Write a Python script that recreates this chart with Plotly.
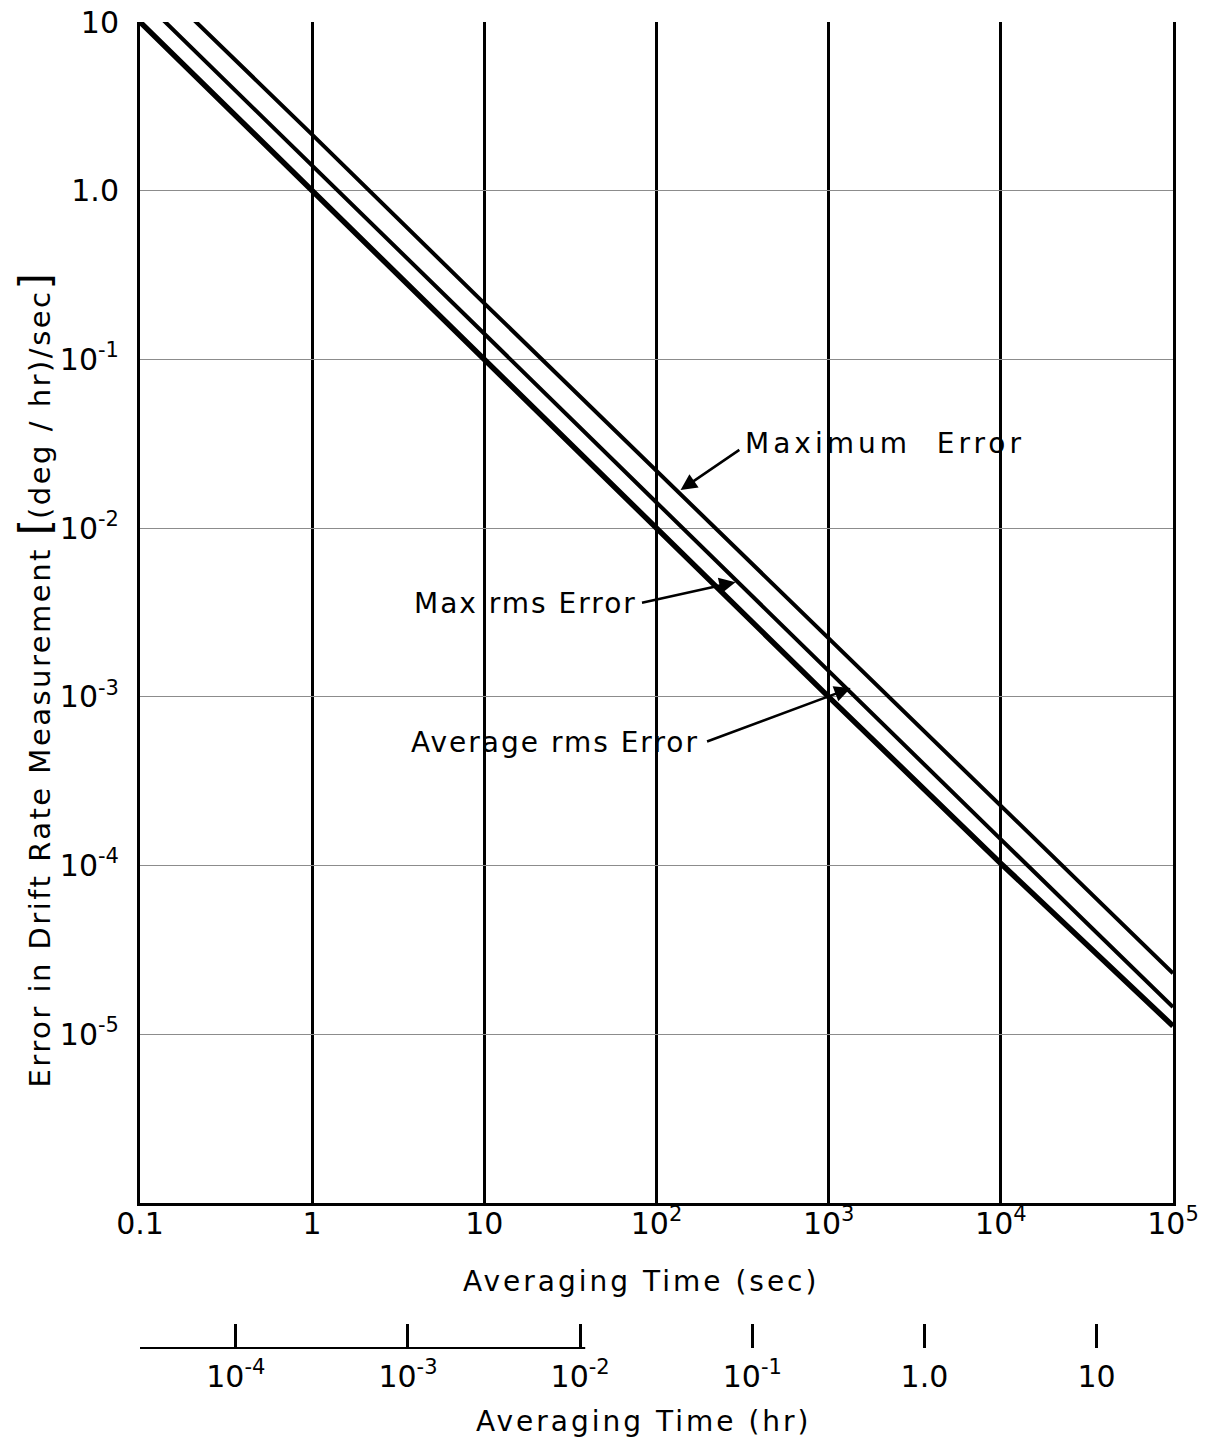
import math
import plotly.graph_objects as go

# ---- data ----
time_sec = [0.1, 1, 10, 100, 1000, 10000, 100000]
max_error = [21, 2.15, 0.215, 0.0218, 2.2e-3, 2.25e-4, 2.3e-5]
max_rms_error = [14, 1.42, 0.142, 0.0142, 1.42e-3, 1.43e-4, 1.45e-5]
avg_rms_error = [10, 1.0, 0.1, 0.01, 1.0e-3, 1.03e-4, 1.12e-5]

x_tickvals = [0.1, 1, 10, 100, 1000, 10000, 100000]
x_ticktext = ["0.1", "1", "10", "10<sup>2</sup>", "10<sup>3</sup>", "10<sup>4</sup>", "10<sup>5</sup>"]
y_tickvals = [10, 1, 0.1, 0.01, 1e-3, 1e-4, 1e-5]
y_ticktext = ["10", "1.0", "10<sup>-1</sup>", "10<sup>-2</sup>", "10<sup>-3</sup>", "10<sup>-4</sup>", "10<sup>-5</sup>"]
hr_tickvals = [1e-4, 1e-3, 1e-2, 0.1, 1, 10]
hr_ticktext = ["10<sup>-4</sup>", "10<sup>-3</sup>", "10<sup>-2</sup>", "10<sup>-1</sup>", "1.0", "10"]

FONT = "DejaVu Sans"


def spaced(txt, px):
    return f"<span style='letter-spacing:{px}px'>{txt}</span>"


fig = go.Figure()
fig.add_trace(go.Scatter(x=time_sec, y=max_error, mode="lines",
                         line=dict(color="black", width=4), showlegend=False, hoverinfo="skip"))
fig.add_trace(go.Scatter(x=time_sec, y=max_rms_error, mode="lines",
                         line=dict(color="black", width=4), showlegend=False, hoverinfo="skip"))
fig.add_trace(go.Scatter(x=time_sec, y=avg_rms_error, mode="lines",
                         line=dict(color="black", width=5.5), showlegend=False, hoverinfo="skip"))
# dummy trace so the hour axis is drawn
fig.add_trace(go.Scatter(x=[hr_tickvals[0], hr_tickvals[-1]], y=[1e-6, 1e-6], xaxis="x2", yaxis="y",
                         mode="markers", marker=dict(opacity=0), showlegend=False, hoverinfo="skip"))

y_bottom = 0.1624
hr_pos = 0.0596

fig.update_layout(
    width=1227, height=1444,
    margin=dict(l=132, r=62, t=14, b=20),
    paper_bgcolor="white", plot_bgcolor="white",
    font=dict(family=FONT, color="black", size=28),
    xaxis=dict(type="log", range=[-1, 5], tickvals=x_tickvals, ticktext=x_ticktext,
               showgrid=True, gridcolor="black", gridwidth=2.5,
               showline=True, linecolor="black", linewidth=2.5, automargin=False,
               ticks="", ticklabelstandoff=-8, ticklabeloverflow="allow",
               tickfont=dict(size=30, family=FONT), anchor="y"),
    yaxis=dict(type="log", range=[-6, 1], domain=[y_bottom, 1], tickvals=y_tickvals, ticktext=y_ticktext,
               showgrid=True, gridcolor="#8c8c8c", gridwidth=1.2, automargin=False,
               showline=True, mirror=True, linecolor="black", linewidth=3,
               ticks="", ticklabelstandoff=12, ticklabeloverflow="allow",
               tickfont=dict(size=30, family=FONT)),
    xaxis2=dict(type="log", overlaying="x", anchor="free", position=hr_pos, side="bottom",
                range=[math.log10(0.1 / 3600), math.log10(1e5 / 3600)],
                tickvals=hr_tickvals, ticktext=hr_ticktext, automargin=False,
                ticks="inside", ticklen=24, tickwidth=2.5, tickcolor="black",
                ticklabelstandoff=8, ticklabeloverflow="allow",
                showline=False, showgrid=False, tickfont=dict(size=30, family=FONT)),
)

# hour-axis base line (partial, as in the original)
fig.add_shape(type="line", xref="paper", yref="paper", x0=0, x1=0.431, y0=hr_pos, y1=hr_pos,
              line=dict(color="black", width=2))

# axis titles
fig.add_annotation(text=spaced("Averaging Time (sec)", 3), xref="paper", yref="paper", x=0.485, y=0.1064,
                   xanchor="center", yanchor="middle",
                   showarrow=False, font=dict(size=28, family=FONT))
fig.add_annotation(text=spaced("Averaging Time (hr)", 3), xref="paper", yref="paper", x=0.487, y=0.0071,
                   xanchor="center", yanchor="middle",
                   showarrow=False, font=dict(size=28, family=FONT))
fig.add_annotation(text=spaced("Error in Drift Rate Measurement ", 2.5)
                   + "<span style='font-size:42px'>[</span>" + spaced("(deg / hr)/sec", 2.5)
                   + "<span style='font-size:42px'>]</span>",
                   xref="paper", yref="paper", x=-0.1016, y=0.533, textangle=-90,
                   xanchor="center", yanchor="middle",
                   showarrow=False, font=dict(size=29, family=FONT))

# curve labels
label_font = dict(size=28, family=FONT)
fig.add_annotation(text=spaced("Maximum  Error", 4), x=3.33, y=-1.496, xref="x", yref="y",
                   showarrow=False, font=label_font)
fig.add_annotation(text=spaced("Max rms Error", 2), x=1.238, y=-2.444, xref="x", yref="y",
                   showarrow=False, font=label_font)
fig.add_annotation(text=spaced("Average rms Error", 2), x=1.413, y=-3.268, xref="x", yref="y",
                   showarrow=False, font=label_font)

# arrows
arrow_specs = [
    dict(x=2.14, y=-1.774, ax=2.49, ay=-1.53),
    dict(x=2.459, y=-2.32, ax=1.907, ay=-2.444),
    dict(x=3.128, y=-2.948, ax=2.285, ay=-3.268),
]
for a in arrow_specs:
    fig.add_annotation(text="", x=a["x"], y=a["y"], ax=a["ax"], ay=a["ay"],
                       xref="x", yref="y", axref="x", ayref="y",
                       showarrow=True, arrowhead=2, arrowsize=1.3, arrowwidth=2.5, arrowcolor="black")

fig.write_html("out.html")
